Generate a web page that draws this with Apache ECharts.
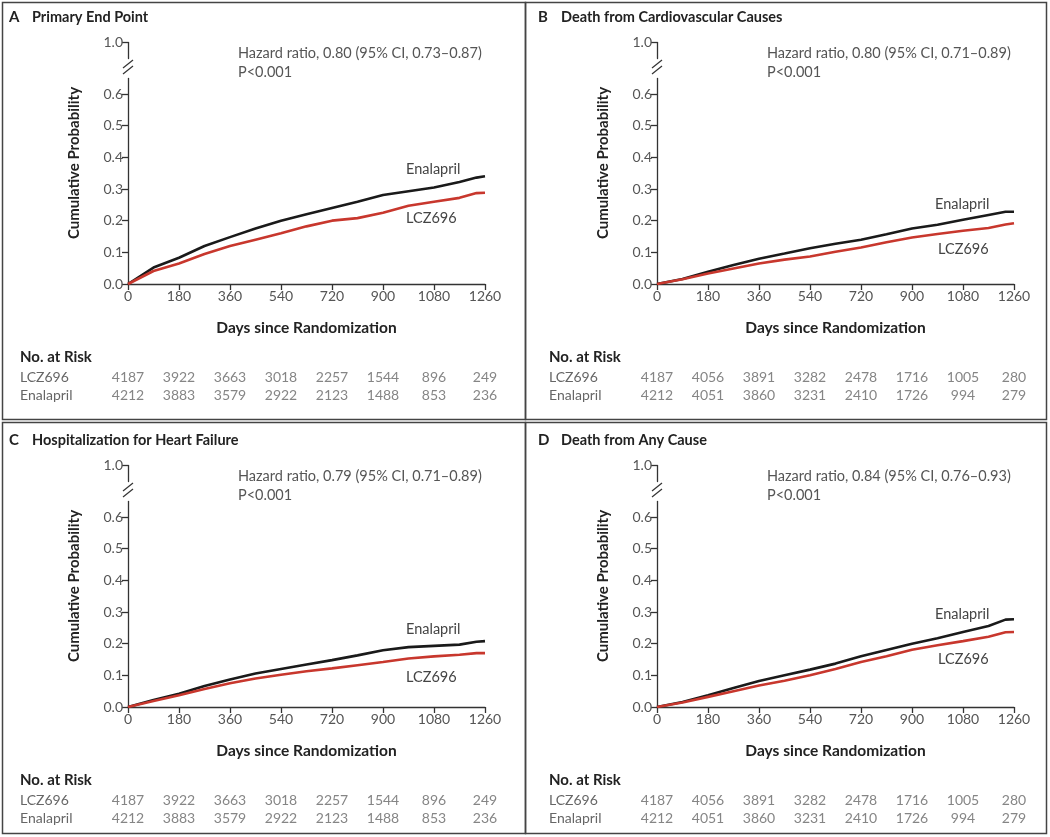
<!DOCTYPE html>
<html><head><meta charset="utf-8">
<script src="https://cdn.jsdelivr.net/npm/echarts@6/dist/echarts.min.js"></script>
<style>html,body{margin:0;padding:0;background:#fff}#c{width:1050px;height:837px}</style>
</head><body><div id="c"></div>
<script>
// ---------- data ----------
const days = [0, 90, 180, 270, 360, 450, 540, 630, 720, 810, 900, 990, 1080, 1170, 1230, 1260];
const enaA = [0, 0.052, 0.083, 0.120, 0.148, 0.175, 0.200, 0.220, 0.240, 0.260, 0.281, 0.293, 0.305, 0.322, 0.336, 0.340];
const lczA = [0, 0.041, 0.065, 0.095, 0.120, 0.140, 0.160, 0.182, 0.200, 0.208, 0.225, 0.247, 0.260, 0.272, 0.287, 0.288];
const enaB = [0, 0.016, 0.039, 0.060, 0.080, 0.096, 0.113, 0.127, 0.140, 0.157, 0.175, 0.187, 0.203, 0.218, 0.228, 0.228];
const lczB = [0, 0.015, 0.033, 0.049, 0.065, 0.077, 0.087, 0.102, 0.115, 0.132, 0.147, 0.158, 0.168, 0.177, 0.188, 0.192];
const enaC = [0, 0.022, 0.042, 0.066, 0.087, 0.106, 0.120, 0.134, 0.148, 0.163, 0.179, 0.189, 0.193, 0.197, 0.206, 0.208];
const lczC = [0, 0.019, 0.037, 0.057, 0.075, 0.090, 0.102, 0.113, 0.122, 0.132, 0.142, 0.153, 0.160, 0.165, 0.170, 0.170];
const enaD = [0, 0.016, 0.037, 0.060, 0.082, 0.100, 0.118, 0.137, 0.160, 0.180, 0.200, 0.217, 0.237, 0.256, 0.276, 0.277];
const lczD = [0, 0.014, 0.032, 0.050, 0.068, 0.083, 0.100, 0.120, 0.142, 0.160, 0.181, 0.195, 0.208, 0.222, 0.236, 0.237];

const riskDays = [0, 180, 360, 540, 720, 900, 1080, 1260];
const riskLczAC = [4187, 3922, 3663, 3018, 2257, 1544, 896, 249];
const riskEnaAC = [4212, 3883, 3579, 2922, 2123, 1488, 853, 236];
const riskLczBD = [4187, 4056, 3891, 3282, 2478, 1716, 1005, 280];
const riskEnaBD = [4212, 4051, 3860, 3231, 2410, 1726, 994, 279];

const yTickValues = [0, 0.1, 0.2, 0.3, 0.4, 0.5, 0.6, 1.0];
const rowNames = ['LCZ696', 'Enalapril'];
const panelLetters = ['A', 'B', 'C', 'D'];
const panelTitles = ['Primary End Point', 'Death from Cardiovascular Causes', 'Hospitalization for Heart Failure', 'Death from Any Cause'];
const hrTexts = ['Hazard ratio, 0.80 (95% CI, 0.73\u20130.87)', 'Hazard ratio, 0.80 (95% CI, 0.71\u20130.89)',
                 'Hazard ratio, 0.79 (95% CI, 0.71\u20130.89)', 'Hazard ratio, 0.84 (95% CI, 0.76\u20130.93)'];
const pTexts = ['P<0.001', 'P<0.001', 'P<0.001', 'P<0.001'];
const xName = 'Days since Randomiza\u200Ction';
const yName = 'Cumulative Probability';

// ---------- layout ----------
const FONT = 'Lato, "Open Sans", sans-serif';
const panels = [
  {ox: 0,   oy: 0,   ena: enaA, lcz: lczA, rl: riskLczAC, re: riskEnaAC, enaLbl: [406, 169], lczLbl: [406, 218]},
  {ox: 529, oy: 0,   ena: enaB, lcz: lczB, rl: riskLczBD, re: riskEnaBD, enaLbl: [406, 204], lczLbl: [409, 249]},
  {ox: 0,   oy: 423, ena: enaC, lcz: lczC, rl: riskLczAC, re: riskEnaAC, enaLbl: [406, 206], lczLbl: [406, 254]},
  {ox: 529, oy: 423, ena: enaD, lcz: lczD, rl: riskLczBD, re: riskEnaBD, enaLbl: [406, 191], lczLbl: [409, 236]}
];
const boxes = [
  {x: 2.5, y: 2.5, w: 523, h: 417},
  {x: 525.5, y: 2.5, w: 521, h: 417},
  {x: 2.5, y: 422.5, w: 523, h: 411},
  {x: 525.5, y: 422.5, w: 521, h: 411}
];

const grid = [], xAxis = [], yAxis = [], series = [], graphic = [];
const axisColor = '#333', labelColor = '#555';

panels.forEach((p, i) => {
  const gi = grid.length;
  grid.push({left: p.ox + 128, top: p.oy + 42, width: 357, height: 242});
  grid.push({left: p.ox + 128, top: p.oy + 368, width: 357, height: 36});
  xAxis.push({
    gridIndex: gi, type: 'value', min: 0, max: 1260, interval: 180,
    axisLine: {lineStyle: {color: axisColor, width: 1.3}},
    axisTick: {length: 6, lineStyle: {color: axisColor, width: 1.3}},
    axisLabel: {color: labelColor, fontFamily: FONT, fontSize: 14, margin: 5,
      showMinLabel: true, showMaxLabel: true, formatter: v => String(v)},
    splitLine: {show: false},
    name: xName, nameLocation: 'middle', nameGap: 36,
    nameTextStyle: {color: '#222', fontFamily: FONT, fontSize: 15.5, fontWeight: 'bold'}
  });
  xAxis.push({gridIndex: gi + 1, type: 'value', min: 0, max: 1260, show: false});
  yAxis.push({
    gridIndex: gi, type: 'value', min: 0, max: 1, interval: 0.1,
    breaks: [{start: 0.65, end: 0.95, gap: '8.4%'}],
    breakArea: {show: false},
    axisLine: {show: true, lineStyle: {color: axisColor, width: 1.3}},
    axisTick: {show: true, length: 6, customValues: yTickValues, lineStyle: {color: axisColor, width: 1.3}},
    axisLabel: {color: labelColor, fontFamily: FONT, fontSize: 14, margin: 5,
      customValues: yTickValues, formatter: v => v.toFixed(1)},
    splitLine: {show: false},
    name: yName, nameLocation: 'middle', nameRotate: 90, nameGap: 46,
    nameTextStyle: {color: '#222', fontFamily: FONT, fontSize: 15, fontWeight: 'bold'}
  });
  yAxis.push({
    gridIndex: gi + 1, type: 'category', data: rowNames, inverse: true,
    axisLine: {show: false}, axisTick: {show: false}, splitLine: {show: false},
    axisLabel: {interval: 0, align: 'left', margin: 108, color: '#666', fontFamily: FONT, fontSize: 14}
  });
  series.push({
    type: 'line', xAxisIndex: gi, yAxisIndex: gi, showSymbol: false, symbol: 'none',
    lineStyle: {color: '#1a1a1a', width: 2.6}, z: 3,
    data: days.map((d, k) => [d, p.ena[k]])
  });
  series.push({
    type: 'line', xAxisIndex: gi, yAxisIndex: gi, showSymbol: false, symbol: 'none',
    lineStyle: {color: '#c8372d', width: 2.6}, z: 4,
    data: days.map((d, k) => [d, p.lcz[k]])
  });
  const riskData = [];
  riskDays.forEach((d, k) => {
    riskData.push([d, 0, p.rl[k]]);
    riskData.push([d, 1, p.re[k]]);
  });
  series.push({
    type: 'scatter', xAxisIndex: gi + 1, yAxisIndex: gi + 1, symbolSize: 0, silent: true,
    label: {show: true, position: 'inside', color: '#666', fontFamily: FONT, fontSize: 14,
      formatter: prm => String(prm.value[2])},
    data: riskData
  });

  // decorations
  const b = boxes[i];
  graphic.push({type: 'rect', shape: {x: b.x, y: b.y, width: b.w, height: b.h},
    style: {fill: 'none', stroke: '#444', lineWidth: 1.5}, silent: true});
  graphic.push({type: 'text', x: p.ox + 9, y: p.oy + 17,
    style: {text: panelLetters[i], fill: '#222', font: 'bold 15px ' + FONT, textVerticalAlign: 'middle'}});
  graphic.push({type: 'text', x: p.ox + 32, y: p.oy + 17,
    style: {text: panelTitles[i], fill: '#222', font: 'bold 14.5px ' + FONT, textVerticalAlign: 'middle'}});
  graphic.push({type: 'text', x: p.ox + 238, y: p.oy + 53,
    style: {text: hrTexts[i], fill: '#555', font: '14.5px ' + FONT, textVerticalAlign: 'middle'}});
  graphic.push({type: 'text', x: p.ox + 238, y: p.oy + 72,
    style: {text: pTexts[i], fill: '#555', font: '14.5px ' + FONT, textVerticalAlign: 'middle'}});
  graphic.push({type: 'text', x: p.ox + p.enaLbl[0], y: p.oy + p.enaLbl[1],
    style: {text: 'Enalapril', fill: '#444', font: '14.5px ' + FONT, textVerticalAlign: 'middle'}});
  graphic.push({type: 'text', x: p.ox + p.lczLbl[0], y: p.oy + p.lczLbl[1],
    style: {text: 'LCZ696', fill: '#444', font: '14.5px ' + FONT, textVerticalAlign: 'middle'}});
  graphic.push({type: 'text', x: p.ox + 20, y: p.oy + 357,
    style: {text: 'No. at Risk', fill: '#222', font: 'bold 15px ' + FONT, textVerticalAlign: 'middle'}});
  // axis break marks
  const bx = p.ox + 128, by = p.oy + 67;
  [-3, 3].forEach(dy => {
    graphic.push({type: 'line', shape: {x1: bx - 5, y1: by + dy + 4, x2: bx + 5, y2: by + dy - 4},
      style: {stroke: '#333', lineWidth: 1.3}, silent: true, z: 10});
  });
});

const chart = echarts.init(document.getElementById('c'), null, {renderer: 'canvas'});
chart.setOption({
  animation: false,
  backgroundColor: '#fff',
  textStyle: {fontFamily: FONT},
  grid, xAxis, yAxis, series, graphic
});
</script>
</body></html>
